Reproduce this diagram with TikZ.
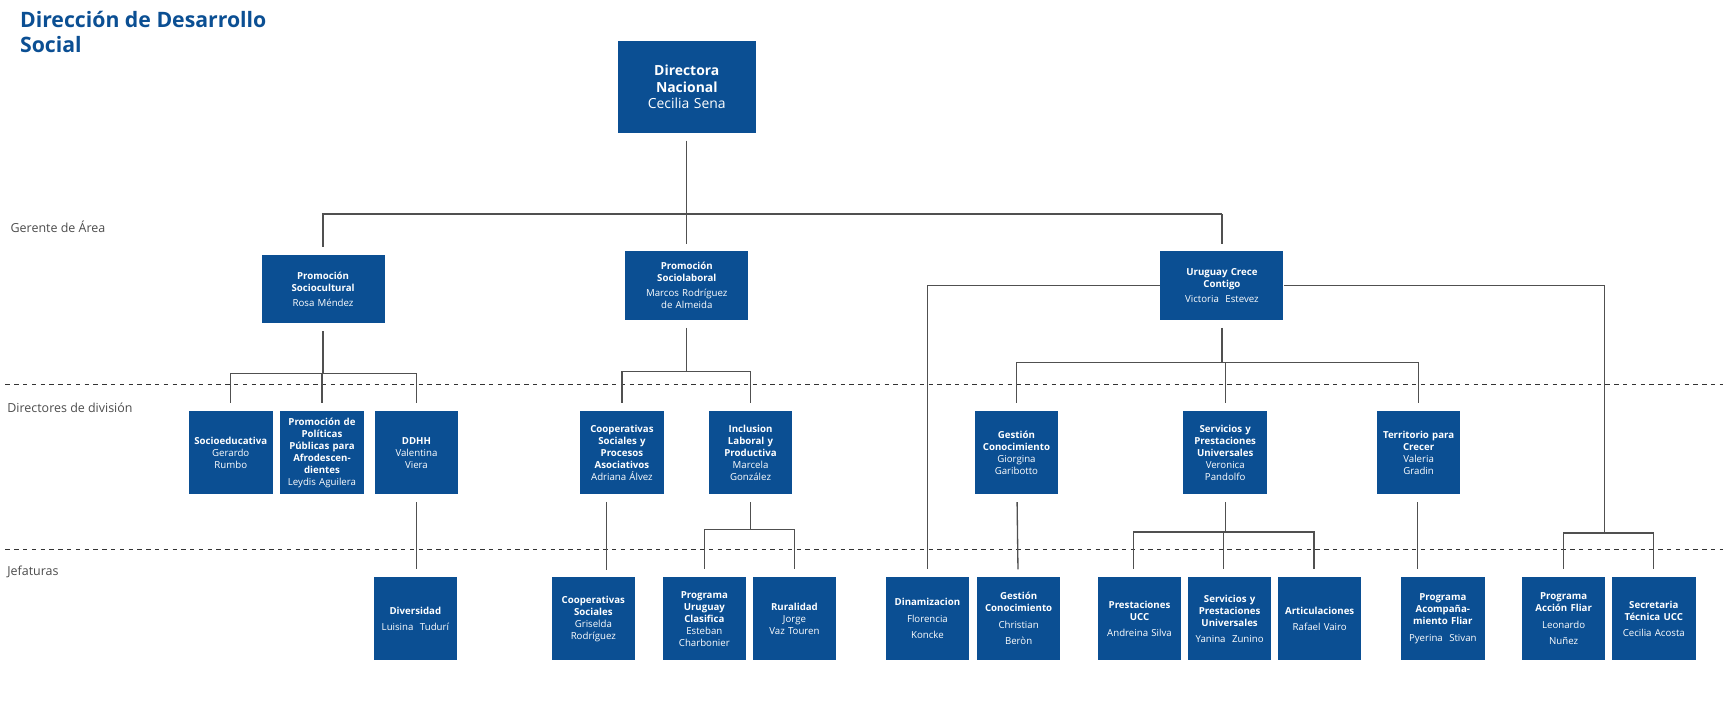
\documentclass[tikz,border=0pt]{standalone}
\usepackage{fontspec}
\setmainfont{Open Sans}
\usetikzlibrary{positioning}
\definecolor{orgblue}{HTML}{0B4F93}
\definecolor{orgline}{HTML}{505050}

\begin{document}
\begin{tikzpicture}[x=0.75pt, y=-0.75pt,
    box/.style={rectangle, fill=orgblue, text=white, align=center, inner sep=1pt,
                font=\fontsize{6.6}{8.2}\selectfont},
    unit/.style={box, minimum width=57pt, minimum height=57pt, text width=54pt},
    area/.style={box, minimum width=84pt, minimum height=47pt, text width=80pt},
    conn/.style={draw=orgline, line width=0.9pt, shorten >=5pt, shorten <=5pt},
    bus/.style={draw=orgline, line width=1.2pt},
    level/.style={anchor=west, text=black!70, font=\fontsize{8.5}{10}\selectfont},
    sep/.style={draw=black!80, dashed, line width=0.8pt}]

    \useasboundingbox (0,0) rectangle (1568,646);

    % title
    \node[anchor=north west, text=orgblue, align=left, inner sep=0pt,
          font=\fontsize{14.5}{17}\selectfont\bfseries] (title) at (18,10)
          {Dirección de Desarrollo\\Social};

    % levels
    \node[level] (gerente) at (5,206) {Gerente de Área};
    \node[level] (directores) at (2,371) {Directores de división};
    \node[level] (jefaturas) at (2,520) {Jefaturas};
    \draw[sep] (5,350) -- (1568,350);
    \draw[sep] (5,500) -- (1568,500);

    % top
    \node[box, minimum width=94.5pt, minimum height=63pt, text width=90pt,
          font=\fontsize{9.5}{11.5}\selectfont] (dir) at (625,79)
          {{\bfseries Directora\\Nacional}\\Cecilia Sena};

    % gerentes de area
    \node[area] (soccul) at (294,263) {{\bfseries Promoción\\Sociocultural}\\[2pt]Rosa Méndez};
    \node[area] (soclab) at (625,260) {{\bfseries Promoción\\Sociolaboral}\\[2pt]Marcos Rodríguez\\de Almeida};
    \node[area] (ucc) at (1112,260) {{\bfseries Uruguay Crece\\Contigo}\\[2pt]Victoria\ \ Estevez};

    % directores de division
    \node[unit] (socedu) at (210,412) {{\bfseries Socioeducativa}\\Gerardo\\Rumbo};
    \node[unit] (afro) at (293,412) {{\bfseries Promoción de\\Políticas\\Públicas para\\Afrodescen-\\dientes}\\Leydis Aguilera};
    \node[unit] (ddhh) at (379,412) {{\bfseries DDHH}\\Valentina\\Viera};
    \node[unit] (coop) at (566,412) {{\bfseries Cooperativas\\Sociales y\\Procesos\\Asociativos}\\Adriana Álvez};
    \node[unit] (inclab) at (683,412) {{\bfseries Inclusion\\Laboral y\\Productiva}\\Marcela\\González};
    \node[unit] (gescon) at (925,412) {{\bfseries Gestión\\Conocimiento}\\Giorgina\\Garibotto};
    \node[unit] (servpre) at (1115,412) {{\bfseries Servicios y\\Prestaciones\\Universales}\\Veronica\\Pandolfo};
    \node[unit] (terr) at (1291,412) {{\bfseries Territorio para\\Crecer}\\Valeria\\Gradin};

    % jefaturas
    \node[unit] (divers) at (378,563) {{\bfseries Diversidad}\\[3pt]Luisina\ \ Tudurí};
    \node[unit] (coopsoc) at (540,563) {{\bfseries Cooperativas\\Sociales}\\Griselda\\Rodríguez};
    \node[unit] (clasif) at (641,563) {{\bfseries Programa\\Uruguay\\Clasifica}\\Esteban\\Charbonier};
    \node[unit] (rural) at (723,563) {{\bfseries Ruralidad}\\Jorge\\Vaz Touren};
    \node[unit] (dinam) at (844,563) {{\bfseries Dinamizacion}\\[3pt]Florencia\\[3pt]Koncke};
    \node[unit] (gescon2) at (927,563) {{\bfseries Gestión\\Conocimiento}\\[3pt]Christian\\[3pt]Beròn};
    \node[unit] (presucc) at (1037,563) {{\bfseries Prestaciones\\UCC}\\[3pt]Andreina Silva};
    \node[unit] (servpre2) at (1119,563) {{\bfseries Servicios y\\Prestaciones\\Universales}\\[3pt]Yanina\ \ Zunino};
    \node[unit] (artic) at (1201,563) {{\bfseries Articulaciones}\\[3pt]Rafael Vairo};
    \node[unit] (acomp) at (1313,563) {{\bfseries Programa\\Acompaña-\\miento Fliar}\\[3pt]Pyerina\ \ Stivan};
    \node[unit] (accion) at (1423,563) {{\bfseries Programa\\Acción Fliar}\\[3pt]Leonardo\\[3pt]Nuñez};
    \node[unit] (secret) at (1505,563) {{\bfseries Secretaria\\Técnica UCC}\\[3pt]Cecilia Acosta};

    % junctions
    \coordinate (jdir) at (625,195);
    \coordinate (jsoccul) at (294,340);
    \coordinate (jsoclab) at (625,338);
    \coordinate (jucc) at (1112,330);
    \coordinate (jinclab) at (683,482);
    \coordinate (jservpre) at (1115,484);
    \coordinate (jfliar) at (1460,485);

    % connectors
    \draw[conn, shorten >=0pt] (dir) -- (jdir);
    \draw[bus] (293,195) -- (1112,195);
    \foreach \c in {soccul, soclab, ucc}
        \draw[conn, shorten <=0pt] (jdir) -| (\c);

    \draw[conn, shorten >=0pt] (soccul) -- (jsoccul);
    \foreach \c in {socedu, afro, ddhh}
        \draw[conn, shorten <=0pt] (jsoccul) -| (\c);
    \draw[conn, shorten >=0pt] (soclab) -- (jsoclab);
    \foreach \c in {coop, inclab}
        \draw[conn, shorten <=0pt] (jsoclab) -| (\c);
    \draw[conn, shorten >=0pt] (ucc) -- (jucc);
    \foreach \c in {gescon, servpre, terr}
        \draw[conn, shorten <=0pt] (jucc) -| (\c);

    \draw[conn] (ddhh) -- (ddhh |- divers.north);
    \draw[conn] (552,450) -- (552,525);
    \draw[conn, shorten >=0pt] (inclab) -- (jinclab);
    \foreach \c in {clasif, rural}
        \draw[conn, shorten <=0pt] (jinclab) -| (\c);
    \draw[conn, shorten <=0pt] (ucc.west) -| (dinam);
    \draw[conn] (gescon) -- (gescon2);
    \draw[conn, shorten >=0pt] (servpre) -- (jservpre);
    \foreach \c in {presucc, servpre2, artic}
        \draw[conn, shorten <=0pt] (jservpre) -| ([xshift=-4]\c.north);
    \draw[conn] (terr.south -| 1290,0) -- (acomp.north -| 1290,0);
    \draw[conn, shorten <=0pt, shorten >=0pt] (ucc.east) -| (jfliar);
    \foreach \c in {accion, secret}
        \draw[conn, shorten <=0pt] (jfliar) -| (\c);

\end{tikzpicture}
\end{document}
